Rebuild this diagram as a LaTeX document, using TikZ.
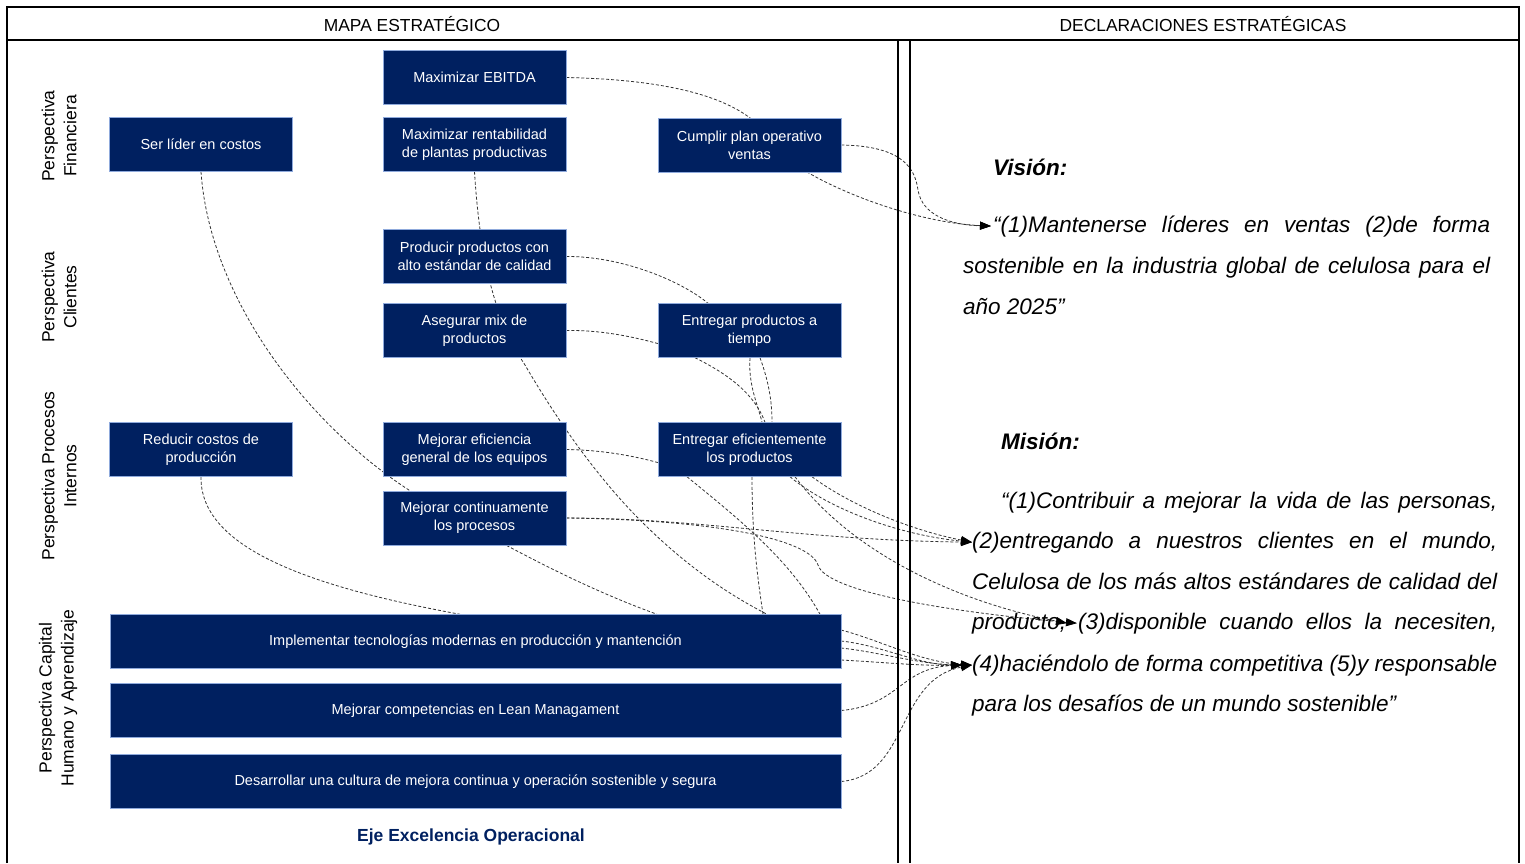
\documentclass[tikz,border=0pt]{standalone}
\usepackage{fontspec}
\setmainfont{Liberation Sans}
\usetikzlibrary{arrows.meta}
\definecolor{navy}{HTML}{002060}
\definecolor{edgeblue}{HTML}{8FAADC}
\pgfdeclarelayer{bg}
\pgfsetlayers{bg,main}
\tikzset{
  box/.style={fill=navy, draw=edgeblue, line width=0.5pt, text=white,
    font=\fontsize{14.5}{18}\selectfont, align=center, inner sep=0pt,
    minimum height=54pt},
  sbox/.style={box, minimum width=183pt},
  wbox/.style={box, minimum width=731pt},
  persp/.style={rotate=90, align=center, font=\fontsize{17.5}{22}\selectfont},
  head/.style={font=\fontsize{17.4}{20}\selectfont},
  conn/.style={dash pattern=on 3pt off 2pt, line width=0.8pt, draw=black!80},
  arr/.style={conn, -{Triangle[length=11pt,width=8pt,color=black]}},
  stmt/.style={anchor=base west, inner sep=0pt, font=\fontsize{22.5}{27}\selectfont\itshape},
  frame/.style={line width=1.3pt}
}
\begin{document}
\begin{tikzpicture}[x=1pt,y=-1pt]
\useasboundingbox (0,0) rectangle (1525,863);
% frame
\draw[line width=2pt] (7,863) -- (7,7) -- (1519,7) -- (1519,863);
\draw[frame] (7,40) -- (1519,40);
\draw[frame] (898,40) -- (898,863);
\draw[frame] (910,40) -- (910,863);
\node[head] (h1) at (412,24) {MAPA ESTRATÉGICO};
\node[head] (h2) at (1203,24) {DECLARACIONES ESTRATÉGICAS};
% perspectives
\node[persp] (p1) at (59,136) {Perspectiva\\Financiera};
\node[persp] (p2) at (59,297) {Perspectiva\\Clientes};
\node[persp] (p3) at (59,476) {Perspectiva Procesos\\Internos};
\node[persp] (p4) at (58,698) {Perspectiva Capital\\Humano y Aprendizaje};
% boxes
\node[sbox] (ebitda) at (474.5,77.5) {Maximizar EBITDA};
\node[sbox] (lider) at (201,144.5) {Ser líder en costos};
\node[sbox] (rentab) at (474.5,144.5) {Maximizar rentabilidad\\de plantas productivas};
\node[sbox] (cumplir) at (749.5,145) {Cumplir plan operativo\\ventas};
\node[sbox] (producir) at (474.5,256.5) {Producir productos con\\alto estándar de calidad};
\node[sbox] (asegurar) at (474.5,330.5) {Asegurar mix de\\productos};
\node[sbox] (tiempo) at (749.5,330.5) {Entregar productos a\\tiempo};
\node[sbox] (reducir) at (201,449.5) {Reducir costos de\\producción};
\node[sbox] (eficiencia) at (474.5,449.5) {Mejorar eficiencia\\general de los equipos};
\node[sbox] (eficient) at (749.5,449.5) {Entregar eficientemente\\los productos};
\node[sbox] (continua) at (474.5,518) {Mejorar continuamente\\los procesos};
\node[wbox] (impl) at (475.5,641.5) {Implementar tecnologías modernas en producción y mantención};
\node[wbox] (lean) at (475.5,710.5) {Mejorar competencias en Lean Managament};
\node[wbox] (cultura) at (475.5,781.5) {Desarrollar una cultura de mejora continua y operación sostenible y segura};
\node[font=\fontsize{17.5}{21}\selectfont\bfseries, text=navy] (eje) at (471,837) {Eje Excelencia Operacional};
% statements
\node[stmt] (vh) at (993,175) {\bfseries Visión:};
\node[stmt] (v1) at (993,232) {\makebox[497pt][s]{“(1)Mantenerse líderes en ventas (2)de forma}};
\node[stmt] (v2) at (963,273) {\makebox[527pt][s]{sostenible en la industria global de celulosa para el}};
\node[stmt] (v3) at (963,314) {año 2025”};
\node[stmt] (mh) at (1001,449) {\bfseries Misión:};
\node[stmt] (m1) at (1001,508) {\makebox[496pt][s]{“(1)Contribuir a mejorar la vida de las personas,}};
\node[stmt] (m2) at (972,548) {\makebox[525pt][s]{(2)entregando a nuestros clientes en el mundo,}};
\node[stmt] (m3) at (972,589) {\makebox[525pt][s]{Celulosa de los más altos estándares de calidad del}};
\node[stmt] (m3a) at (972,629) {producto,};
\node[stmt] (m3b) at (1078,629) {\makebox[419pt][s]{(3)disponible cuando ellos la necesiten,}};
\node[stmt] (m4) at (972,671) {\makebox[525pt][s]{(4)haciéndolo de forma competitiva (5)y responsable}};
\node[stmt] (m5) at (972,711) {para los desafíos de un mundo sostenible”};
% connectors
\begin{pgfonlayer}{bg}
\draw[arr] (ebitda.east) .. controls (690,80) and (750,105) .. (770,140) .. controls (785,172) and (900,222) .. ([xshift=-2pt]v1.west);
\draw[arr] (cumplir.east) .. controls (905,146) and (915,170) .. (918,190) .. controls (922,215) and (950,225) .. ([xshift=-2pt]v1.west);
\draw[conn] (rentab.south) .. controls (480,260) and (495,320) .. (525,365) .. controls (560,425) and (600,480) .. (640,520) .. controls (680,560) and (720,590) .. (767,0 |- impl.north);
\draw[conn] (lider.south) .. controls (210,300) and (310,430) .. (420,497) .. controls (520,555) and (590,590) .. (657,0 |- impl.north);
\draw[conn] (reducir.south) .. controls (200,545) and (300,585) .. (460,0 |- impl.north);
\draw[conn] (producir.east) .. controls (620,256) and (680,280) .. (708,0 |- tiempo.north);
\draw[conn] (asegurar.east) .. controls (600,330) and (630,336) .. ([yshift=-13pt]tiempo.west);
\draw[conn] (695,0 |- tiempo.south) .. controls (730,375) and (755,395) .. (765,0 |- eficient.north);
\draw[conn] (750,0 |- tiempo.south) .. controls (748,385) and (758,405) .. (762,0 |- eficient.north);
\draw[conn] (760,0 |- tiempo.south) .. controls (770,385) and (772,405) .. (772,0 |- eficient.north);
\draw[conn] (eficiencia.east) .. controls (600,450) and (630,455) .. ([yshift=-13pt]eficient.west);
\draw[arr] (continua.east) .. controls (700,518) and (800,540) .. (m2.west);
\draw[arr] (continua.east) .. controls (720,520) and (810,540) .. (818,565) .. controls (826,592) and (950,612) .. ([xshift=-1pt]m3b.west);
\draw[arr] (790,0 |- eficient.south) .. controls (830,510) and (900,535) .. (m2.west);
\draw[arr] (812,0 |- eficient.south) .. controls (850,505) and (910,530) .. (m2.west);
\draw[arr] (795,0 |- eficient.south) .. controls (850,550) and (950,600) .. ([xshift=-11pt]m3b.west);
\draw[conn] (752,0 |- eficient.south) .. controls (752,540) and (758,580) .. (763,0 |- impl.north);
\draw[conn] (687,0 |- eficient.south) .. controls (740,520) and (790,560) .. (820,0 |- impl.north);
\draw[arr] (841,630) .. controls (880,640) and (920,662) .. (m4.west);
\draw[arr] (841,641) .. controls (880,645) and (920,665) .. ([xshift=-10pt]m4.west);
\draw[arr] (841,648) .. controls (880,652) and (920,665) .. (m4.west);
\draw[arr] (841,660) .. controls (880,662) and (920,666) .. ([xshift=-10pt]m4.west);
\draw[arr] (lean.east) .. controls (900,705) and (900,668) .. ([xshift=-10pt]m4.west);
\draw[arr] (cultura.east) .. controls (910,775) and (895,680) .. (m4.west);
\end{pgfonlayer}
\end{tikzpicture}
\end{document}
